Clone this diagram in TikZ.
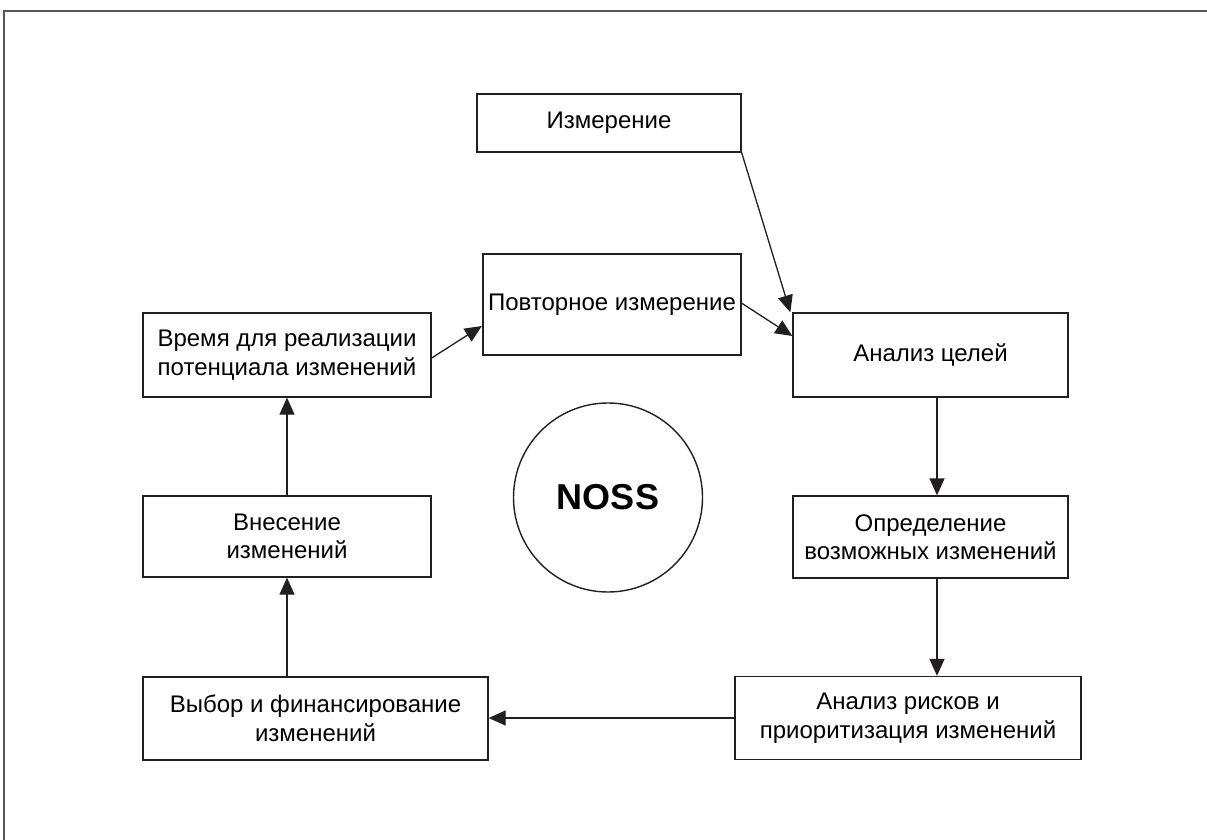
\documentclass[tikz,border=0pt]{standalone}
\usepackage{fontspec}
\setmainfont{Liberation Sans}
\usetikzlibrary{arrows.meta}
\definecolor{ink}{HTML}{231F20}
\definecolor{framegray}{HTML}{555555}
\begin{document}
\begin{tikzpicture}[x=1pt,y=-1pt,
  box/.style={draw=ink,line width=1.3pt,rectangle,inner sep=0pt,align=center,
    font=\fontsize{24}{28.5}\selectfont,text=black},
  arr/.style={draw=ink,line width=1.3pt,-{Triangle[length=17pt,width=15pt]}}]
\useasboundingbox (0,0) rectangle (1207,840);
\draw[framegray,line width=2.8pt] (4,840) -- (4,11) -- (1207,11);
\node[box,minimum width=264pt,minimum height=58pt] (izm) at (609,123) {Измерение};
\node[box,minimum width=258pt,minimum height=101pt,line width=2.4pt] (povt) at (612,304.5) {Повторное измерение};
\node[box,minimum width=275pt,minimum height=84pt] (celi) at (930.5,355) {Анализ целей};
\node[box,minimum width=275pt,minimum height=82pt] (opr) at (930.5,537) {Определение\\возможных изменений};
\node[box,minimum width=346pt,minimum height=83pt] (risk) at (908,718) {Анализ рисков и\\приоритизация изменений};
\node[box,minimum width=345pt,minimum height=83pt] (vybor) at (315.5,718.5) {Выбор и финансирование\\изменений};
\node[box,minimum width=288pt,minimum height=81pt] (vnes) at (287,536.5) {Внесение\\изменений};
\node[box,minimum width=288pt,minimum height=84pt] (vremya) at (287,355) {Время для реализации\\потенциала изменений};
\node[draw=ink,line width=1.4pt,circle,minimum size=189pt,inner sep=0pt,
  font=\fontsize{36}{40}\selectfont\bfseries] (noss) at (608,497.5) {NOSS};
\draw[arr] (izm.south east) -- ([xshift=-2pt]celi.north west);
\draw[arr] ([yshift=1pt]povt.east) -- ([yshift=19pt]celi.west);
\draw[arr] ([yshift=-3pt]vremya.east) -- ([yshift=-21.5pt]povt.west);
\draw[arr] ([xshift=6.5pt]celi.south) -- ([xshift=6.5pt]opr.north);
\draw[arr] ([xshift=6.5pt]opr.south) -- ([xshift=6.5pt]opr.south |- risk.north);
\draw[arr] (risk.west) -- (risk.west -| vybor.east);
\draw[arr] (vybor.north -| vnes.south) -- (vnes.south);
\draw[arr] (vnes.north) -- (vremya.south);
\end{tikzpicture}
\end{document}
